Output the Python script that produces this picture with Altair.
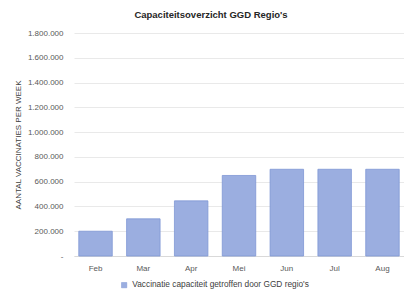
import altair as alt
import pandas as pd

months = ["Feb", "Mar", "Apr", "Mei", "Jun", "Jul", "Aug"]
capacity = [200000, 300000, 445000, 650000, 700000, 700000, 700000]
series_name = "Vaccinatie capaciteit getroffen door GGD regio's"
y_ticks = [0, 200000, 400000, 600000, 800000, 1000000, 1200000, 1400000, 1600000, 1800000]

df = pd.DataFrame({"maand": months, "waarde": capacity, "reeks": [series_name] * len(months)})

font = "Liberation Sans"

chart = alt.Chart(df).mark_bar(stroke="#7F97D4", strokeWidth=0.8).encode(
    x=alt.X("maand:N", sort=months,
            scale=alt.Scale(paddingInner=0.3, paddingOuter=0.1),
            axis=alt.Axis(title=None, labelAngle=0, ticks=False, domain=True,
                          domainColor="#D9D9D9", labelFontSize=8, labelColor="#595959",
                          labelPadding=8, labelFont=font)),
    y=alt.Y("waarde:Q", scale=alt.Scale(domain=[0, 1800000], nice=False),
            axis=alt.Axis(values=y_ticks, title="AANTAL VACCINATIES PER WEEK",
                          titleFontSize=8, titleFontWeight="normal", titleColor="#404040",
                          titleFont=font, titleX=-56, titleY=111.5, titleBaseline="middle",
                          labelExpr="datum.value == 0 ? '-' : replace(format(datum.value, ',d'), regexp(',', 'g'), '.')",
                          labelFontSize=8, labelColor="#595959", labelFont=font, labelPadding=11,
                          ticks=False, domain=False, gridColor="#E3E3E3", gridWidth=0.8)),
    color=alt.Color("reeks:N", scale=alt.Scale(range=["#9BAEE0"]),
                    legend=alt.Legend(title=None, orient="none", legendX=46, legendY=248,
                                      symbolType="square", symbolSize=28, symbolStrokeColor="#7F97D4",
                                      symbolStrokeWidth=0.5,
                                      labelFontSize=8.3, labelColor="#404040", labelFont=font,
                                      labelLimit=400)),
).properties(
    width=330, height=223, autosize="none",
    padding={"left": 66, "top": 25, "right": 0, "bottom": 33},
    title=alt.TitleParams("Capaciteitsoverzicht GGD Regio's", fontSize=9.5, fontWeight="bold",
                          font=font, color="#262626", anchor="middle", dx=-28, offset=10),
).configure_view(stroke=None)

chart.save("out.html", embed_options={"renderer": "svg", "actions": False})
